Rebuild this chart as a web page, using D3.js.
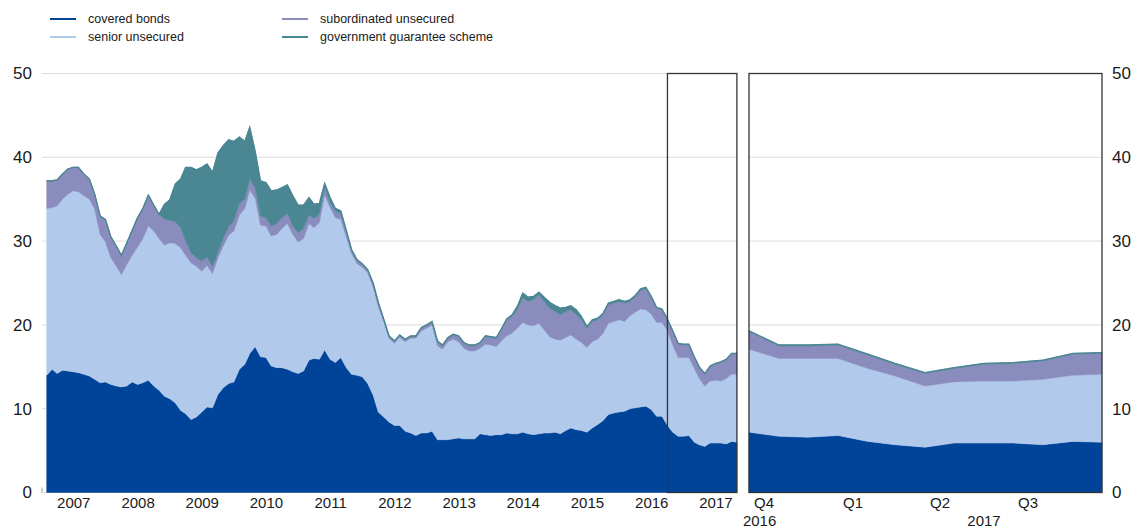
<!DOCTYPE html>
<html>
<head>
<meta charset="utf-8">
<script src="https://cdn.jsdelivr.net/npm/d3@7"></script>
<style>
  body { margin: 0; background: #fff; }
  text { font-family: "Liberation Sans", Arial, sans-serif; fill: #1a1a1a; }
</style>
</head>
<body>
<script>
var width = 1132, height = 529;

// monthly, Jan 2007 - Oct 2017 (EUR bn)
var covered = [
  14.0,14.7,14.2,14.6,14.5,14.4,14.3,14.1,13.9,13.5,
  13.1,13.2,12.9,12.7,12.6,12.7,13.2,12.9,13.1,13.4,
  12.7,12.2,11.5,11.2,10.7,9.8,9.4,8.7,9.0,9.6,
  10.2,10.1,11.7,12.5,13.0,13.2,14.7,15.3,16.6,17.4,
  16.2,16.1,15.1,14.9,14.9,14.7,14.4,14.2,14.5,15.8,
  16.0,15.9,17.0,15.9,15.5,16.1,14.9,14.1,14.0,13.8,
  13.0,11.6,9.6,9.0,8.4,8.0,8.0,7.3,7.1,6.8,
  7.1,7.1,7.3,6.3,6.3,6.3,6.4,6.5,6.4,6.4,
  6.4,7.0,6.9,6.8,6.9,6.9,7.1,7.0,7.0,7.2,
  7.0,6.9,7.0,7.1,7.1,7.2,7.0,7.4,7.7,7.5,
  7.4,7.2,7.7,8.1,8.6,9.3,9.5,9.6,9.7,10.0,
  10.1,10.2,10.3,9.9,9.1,9.1,8.0,7.2,6.7,6.7,
  6.8,6.0,5.7,5.5,5.9,5.9,5.9,5.8,6.1,6.0
];
var senior = [
  19.9,19.3,20.0,20.4,21.1,21.6,21.6,21.3,21.1,20.3,
  17.7,16.7,15.1,14.3,13.4,14.5,15.1,16.4,17.2,18.4,
  18.5,18.1,18.0,18.6,19.0,19.4,18.9,18.7,18.0,16.8,
  16.9,16.0,16.3,16.9,17.7,18.0,18.4,18.6,19.5,17.7,
  15.7,15.7,15.5,15.9,16.6,17.4,16.4,15.7,15.8,16.3,
  15.6,16.3,18.5,18.1,17.3,16.5,15.6,14.4,13.3,13.1,
  13.2,12.9,12.6,11.4,10.0,9.8,10.5,10.7,11.3,11.6,
  12.2,12.5,12.7,11.2,10.8,11.7,11.9,11.5,10.8,10.5,
  10.5,10.2,10.8,10.8,10.5,11.2,11.6,12.0,12.6,13.1,
  13.0,13.0,13.2,12.3,11.5,11.1,11.2,11.1,11.1,10.8,
  10.5,10.1,10.3,10.2,10.4,10.9,10.9,11.0,10.7,11.1,
  11.4,11.7,11.5,11.4,11.2,11.2,11.3,10.4,9.4,9.4,
  9.3,8.8,7.9,7.2,7.4,7.5,7.4,7.8,8.0,8.1
];
var subordinated = [
  3.3,3.2,3.1,3.0,3.0,2.8,2.9,2.6,2.4,1.8,
  2.2,2.7,2.5,2.4,2.3,2.6,3.0,3.5,3.6,3.7,
  3.1,2.9,3.1,2.7,2.6,2.4,1.7,1.2,1.0,1.2,
  1.0,0.9,0.6,0.9,1.0,1.2,1.4,1.1,1.3,1.2,
  1.1,1.0,1.2,1.3,1.3,1.2,1.0,1.1,1.2,1.0,
  1.1,1.0,0.9,0.6,0.8,0.7,0.6,0.4,0.4,0.3,
  0.3,0.4,0.4,0.2,0.2,0.2,0.2,0.2,0.2,0.2,
  0.3,0.3,0.3,0.5,0.4,0.4,0.5,0.6,0.6,0.6,
  0.6,0.6,0.9,0.9,1.0,1.4,1.9,2.0,2.2,2.9,
  2.8,3.1,3.4,3.4,3.4,3.3,3.0,3.1,3.0,2.9,
  2.7,2.3,2.4,2.3,2.2,2.2,2.2,2.2,2.2,1.7,
  1.8,2.2,2.5,1.9,1.7,1.5,1.3,1.6,1.6,1.5,
  1.5,1.3,1.3,1.4,1.7,1.9,2.2,2.2,2.4,2.4
];
var government = [
  0,0,0,0,0,0,0,0,0,0,
  0,0,0,0,0,0,0,0,0,0,
  0,0,1.8,2.4,4.5,5.8,8.8,10.2,10.5,11.2,
  11.1,11.2,11.9,11.1,10.4,9.5,7.9,6.9,6.2,4.4,
  4.2,4.2,4.2,4.0,3.6,3.4,3.6,3.3,2.8,2.1,
  1.7,1.3,0.5,0.6,0.3,0.3,0.2,0.1,0.1,0.1,
  0.1,0.1,0.1,0.1,0.1,0.1,0.1,0.1,0.1,0.1,
  0.1,0.1,0.1,0.1,0.1,0.1,0.1,0.1,0.1,0.1,
  0.1,0.1,0.1,0.1,0.1,0.1,0.1,0.2,0.4,0.6,
  0.5,0.4,0.3,0.5,0.7,0.7,0.8,0.5,0.5,0.6,
  0.4,0.2,0.2,0.2,0.2,0.2,0.2,0.2,0.2,0.2,
  0.2,0.2,0.2,0.2,0.1,0.1,0.1,0.1,0.1,0.1,
  0.1,0.1,0.1,0.1,0.1,0.1,0.1,0.1,0.1,0.1
];

// zoomed panel, Oct 2016 - Oct 2017
var zoomCovered = [7.2,6.7,6.6,6.8,6.1,5.7,5.4,5.9,5.9,5.9,5.7,6.1,6.0];
var zoomSenior = [9.9,9.3,9.4,9.2,8.7,8.2,7.3,7.3,7.4,7.4,7.8,7.9,8.1];
var zoomSubordinated = [2.1,1.5,1.5,1.6,1.6,1.4,1.5,1.6,2.0,2.1,2.2,2.5,2.5];
var zoomGovernment = [0.1,0.1,0.1,0.1,0.1,0.1,0.1,0.1,0.1,0.1,0.1,0.1,0.1];

var keys = ["covered", "senior", "subordinated", "government"];
var legendLabels = ["covered bonds", "senior unsecured", "subordinated unsecured", "government guarantee scheme"];
var colors = ["#00449a", "#b1c9ea", "#8a8cbe", "#4b8693"];

var yTicks = [0, 10, 20, 30, 40, 50];
var years = [2007, 2008, 2009, 2010, 2011, 2012, 2013, 2014, 2015, 2016, 2017];
var quarterLabels = ["Q4", "Q1", "Q2", "Q3"];
var quarterStarts = ["2016-10-16", "2017-01-16", "2017-04-16", "2017-07-16"];
var zoomYearLabels = ["2016", "2017"];
var zoomYearPos = ["2016-10-12", "2017-06-01"];

var months = d3.timeMonth.range(new Date(2007, 0, 1), new Date(2017, 10, 1));
var zoomMonths = d3.timeMonth.range(new Date(2016, 9, 1), new Date(2017, 10, 1));
var boxStart = new Date(2016, 8, 1);
var parse = d3.timeParse("%Y-%m-%d");

var svg = d3.select("body").append("svg")
  .attr("width", width)
  .attr("height", height);

var y = d3.scaleLinear().domain([0, 50]).range([492.5, 73.5]);

var xLeft = d3.scaleTime()
  .domain([months[0], months[months.length - 1]])
  .range([46.7, 736.9]);

var xRight = d3.scaleTime()
  .domain([zoomMonths[0], zoomMonths[zoomMonths.length - 1]])
  .range([749, 1102]);

var leftData = months.map(function(d, i) {
  return {date: d, covered: covered[i], senior: senior[i], subordinated: subordinated[i], government: government[i]};
});
var rightData = zoomMonths.map(function(d, i) {
  return {date: d, covered: zoomCovered[i], senior: zoomSenior[i], subordinated: zoomSubordinated[i], government: zoomGovernment[i]};
});

var stack = d3.stack().keys(keys);

// gridlines
function grid(x0, x1) {
  svg.append("g")
    .selectAll("line")
    .data(yTicks)
    .enter().append("line")
    .attr("x1", x0).attr("x2", x1)
    .attr("y1", function(d) { return y(d); })
    .attr("y2", function(d) { return y(d); })
    .attr("stroke", "#dcdcdc")
    .attr("stroke-width", 1);
}
grid(42, xLeft.range()[1]);
grid(xRight.range()[0], xRight.range()[1]);

function drawPanel(data, x) {
  var series = stack(data);
  var area = d3.area()
    .x(function(d) { return x(d.data.date); })
    .y0(function(d) { return y(d[0]); })
    .y1(function(d) { return y(d[1]); });

  svg.append("g")
    .selectAll("path")
    .data(series)
    .enter().append("path")
    .attr("d", area)
    .attr("fill", function(d, i) { return colors[i]; })
    .attr("stroke", function(d, i) { return colors[i]; })
    .attr("stroke-width", 0.5);

  // outline along the top of the stack
  var top = series[series.length - 1];
  svg.append("path")
    .datum(top)
    .attr("d", d3.line()
      .x(function(d) { return x(d.data.date); })
      .y(function(d) { return y(d[1]); }))
    .attr("fill", "none")
    .attr("stroke", colors[3])
    .attr("stroke-width", 1.3);
}
drawPanel(leftData, xLeft);
drawPanel(rightData, xRight);

// frames
svg.append("rect")
  .attr("x", xLeft(boxStart))
  .attr("y", y(50))
  .attr("width", xLeft.range()[1] - xLeft(boxStart))
  .attr("height", y(0) - y(50))
  .attr("fill", "none")
  .attr("stroke", "#333")
  .attr("stroke-width", 1.3);

svg.append("rect")
  .attr("x", xRight.range()[0])
  .attr("y", y(50))
  .attr("width", xRight.range()[1] - xRight.range()[0])
  .attr("height", y(0) - y(50))
  .attr("fill", "none")
  .attr("stroke", "#333")
  .attr("stroke-width", 1.3);

// small tick at the origin
svg.append("line")
  .attr("x1", 42).attr("x2", 42)
  .attr("y1", y(0) - 5).attr("y2", y(0))
  .attr("stroke", "#999");

// y axes
var yAxisL = svg.append("g")
  .attr("transform", "translate(42,0)")
  .call(d3.axisLeft(y).tickValues(yTicks).tickSize(0).tickPadding(10));
var yAxisR = svg.append("g")
  .attr("transform", "translate(1102,0)")
  .call(d3.axisRight(y).tickValues(yTicks).tickSize(0).tickPadding(10));
[yAxisL, yAxisR].forEach(function(g) {
  g.select(".domain").remove();
  g.selectAll("text").style("font-size", "17px").attr("fill", "#1a1a1a");
});

// x axis, left panel (labels centred in each year)
var xAxisL = svg.append("g")
  .attr("transform", "translate(0," + y(0) + ")")
  .call(d3.axisBottom(xLeft)
    .tickValues(years.map(function(yr) { return new Date(yr, 5, 1); }))
    .tickFormat(d3.timeFormat("%Y"))
    .tickSize(0).tickPadding(5));
xAxisL.select(".domain").remove();
xAxisL.selectAll("text").style("font-size", "15px").attr("fill", "#1a1a1a");

// x axis, zoomed panel
var xAxisR = svg.append("g")
  .attr("transform", "translate(0," + y(0) + ")")
  .call(d3.axisBottom(xRight)
    .tickValues(quarterStarts.map(parse))
    .tickFormat(function(d, i) { return quarterLabels[i]; })
    .tickSize(0).tickPadding(5));
xAxisR.select(".domain").remove();
xAxisR.selectAll("text").style("font-size", "15px").attr("fill", "#1a1a1a");

svg.append("g")
  .selectAll("text")
  .data(zoomYearLabels)
  .enter().append("text")
  .attr("x", function(d, i) { return xRight(parse(zoomYearPos[i])); })
  .attr("y", y(0) + 33)
  .attr("text-anchor", "middle")
  .style("font-size", "15px")
  .text(function(d) { return d; });

// legend
var legend = svg.append("g")
  .selectAll("g")
  .data(legendLabels)
  .enter().append("g")
  .attr("transform", function(d, i) {
    return "translate(" + (i < 2 ? 50 : 282) + "," + (i % 2 === 0 ? 19 : 37) + ")";
  });
legend.append("line")
  .attr("x1", 0).attr("x2", 26)
  .attr("stroke", function(d, i) { return colors[i]; })
  .attr("stroke-width", 2);
legend.append("text")
  .attr("x", 38)
  .attr("dy", "0.35em")
  .style("font-size", "12.5px")
  .text(function(d) { return d; });
</script>
</body>
</html>
